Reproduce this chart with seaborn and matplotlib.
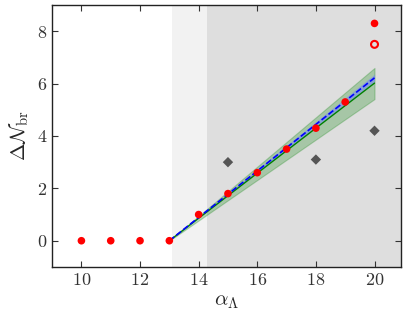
import matplotlib
matplotlib.use("Agg")
import matplotlib.pyplot as plt
import seaborn as sns
import pandas as pd

sns.set_theme(style="ticks")
plt.rcParams['font.family'] = ['cmr10', 'DejaVu Serif']
plt.rcParams['mathtext.fontset'] = 'cm'
plt.rcParams['axes.formatter.use_mathtext'] = True
plt.rcParams['axes.unicode_minus'] = False

# data
alpha_red = [10, 11, 12, 13, 14, 15, 16, 17, 18, 19, 20]
dN_red = [0, 0, 0, 0, 1.0, 1.8, 2.6, 3.5, 4.3, 5.3, 8.3]
alpha_open = [20]
dN_open = [7.5]
alpha_dia = [15, 18, 20]
dN_dia = [3.0, 3.1, 4.2]
alpha_fit = [13, 20]
green_fit = [0, 6.02]
green_lo = [0, 5.41]
green_hi = [0, 6.6]
blue_fit = [0, 6.22]
blue_lo = [0, 6.08]
blue_hi = [0, 6.36]
region_light = [13.1, 14.3]
region_dark = [14.3, 21.5]
xticks = [10, 12, 14, 16, 18, 20]
yticks = [0, 2, 4, 6, 8]

fig = plt.figure(figsize=(4.07, 3.17), dpi=100)
ax = fig.add_axes([0.128, 0.158, 0.857, 0.826])

ax.axvspan(region_light[0], region_light[1], color='#f2f2f2', lw=0, zorder=0)
ax.axvspan(region_dark[0], region_dark[1], color='#dedede', lw=0, zorder=0)

ax.fill_between(alpha_fit, green_lo, green_hi, color='green', alpha=0.25, lw=0.8, zorder=1)
ax.fill_between(alpha_fit, blue_lo, blue_hi, color='#6a7fff', alpha=0.5, lw=0, zorder=2)

dfg = pd.DataFrame({'x': alpha_fit, 'y': green_fit})
sns.lineplot(data=dfg, x='x', y='y', ax=ax, color='green', lw=1.0, zorder=3)
dfb = pd.DataFrame({'x': alpha_fit, 'y': blue_fit})
sns.lineplot(data=dfb, x='x', y='y', ax=ax, color='blue', lw=1.2, ls='--', zorder=4)

dfr = pd.DataFrame({'x': alpha_red, 'y': dN_red})
sns.scatterplot(data=dfr, x='x', y='y', ax=ax, color='red', s=30, edgecolor='none', zorder=6)
dfo = pd.DataFrame({'x': alpha_open, 'y': dN_open})
sns.scatterplot(data=dfo, x='x', y='y', ax=ax, facecolor='none', edgecolor='red', linewidth=1.5, s=25, zorder=6)
dfd = pd.DataFrame({'x': alpha_dia, 'y': dN_dia})
sns.scatterplot(data=dfd, x='x', y='y', ax=ax, color='#555555', marker='D', s=28, edgecolor='none', zorder=5)

ax.set_xlim(9, 20.9)
ax.set_ylim(-1, 9)
ax.set_xticks(xticks)
ax.set_yticks(yticks)
ax.tick_params(direction='in', top=True, right=True, length=4, width=0.8, labelsize=13, colors='#333333')
for s in ax.spines.values():
    s.set_color('#222222')
    s.set_linewidth(1.0)
ax.set_xlabel(r'$\alpha_\Lambda$', fontsize=15)
ax.set_ylabel(r'$\Delta\mathcal{N}_{\rm br}$', fontsize=15)

fig.savefig('out.png', dpi=100)
